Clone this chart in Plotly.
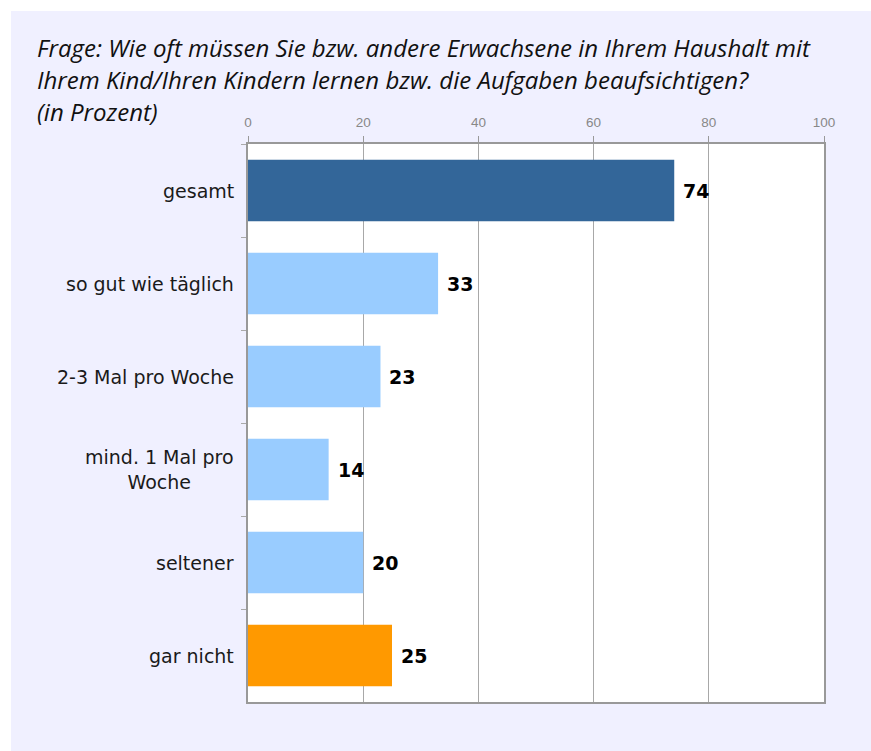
import plotly.graph_objects as go

categories = ["gesamt", "so gut wie täglich", "2-3 Mal pro Woche", "mind. 1 Mal pro Woche", "seltener", "gar nicht"]
label_texts = ["gesamt", "so gut wie täglich", "2-3 Mal pro Woche", "mind. 1 Mal pro<br>Woche", "seltener", "gar nicht"]
values = [74, 33, 23, 14, 20, 25]
colors = ["#336699", "#99CCFF", "#99CCFF", "#99CCFF", "#99CCFF", "#FF9900"]
x_ticks = [0, 20, 40, 60, 80, 100]
title_lines = [
    "Frage: Wie oft müssen Sie bzw. andere Erwachsene in Ihrem Haushalt mit",
    "Ihrem Kind/Ihren Kindern lernen bzw. die Aufgaben beaufsichtigen?",
    "(in Prozent)",
]

W, H = 871, 751
L, R, T, B = 248, 47, 144, 49
pw, ph = W - L - R, H - T - B

def px_x(x):
    return (x - L) / pw

def px_y(y):
    return 1 - (y - T) / ph

fig = go.Figure()
fig.add_trace(go.Bar(
    y=categories, x=values, orientation="h",
    marker=dict(color=colors, line=dict(width=0)),
    hoverinfo="skip",
))

shapes = [
    dict(type="rect", xref="paper", yref="paper", layer="below",
         x0=px_x(11), x1=px_x(W + 5), y0=px_y(11), y1=px_y(H + 5),
         fillcolor="#F0F0FF", line=dict(width=0)),
    dict(type="rect", xref="paper", yref="paper", layer="below",
         x0=0, x1=1, y0=0, y1=1, fillcolor="#FFFFFF", line=dict(width=0)),
]

annotations = []
for i, line in enumerate(title_lines):
    annotations.append(dict(
        text=line, xref="paper", yref="paper", x=px_x(35), y=px_y(47 + i * 32.5),
        xanchor="left", yanchor="middle", showarrow=False, align="left",
        font=dict(family="Open Sans", size=24, color="#111111", style="italic"),
    ))

for cat, txt in zip(categories, label_texts):
    annotations.append(dict(
        text=txt, xref="paper", yref="y", x=0, y=cat, xshift=-12,
        xanchor="right", yanchor="middle", showarrow=False, align="center",
        font=dict(family="DejaVu Sans", size=19, color="#1a1a1a"),
    ))

for cat, v in zip(categories, values):
    annotations.append(dict(
        text=f"<b>{v}</b>", xref="x", yref="y", x=v, y=cat, xshift=7,
        xanchor="left", yanchor="middle", showarrow=False,
        font=dict(family="DejaVu Sans", size=19, color="#000000"),
    ))

fig.update_layout(
    width=W, height=H,
    margin=dict(l=L, r=R, t=T, b=B, pad=0),
    paper_bgcolor="#FFFFFF", plot_bgcolor="rgba(0,0,0,0)",
    showlegend=False, bargap=0.34,
    shapes=shapes, annotations=annotations,
    xaxis=dict(
        side="top", range=[0, 100], tickvals=x_ticks, ticktext=[str(t) for t in x_ticks],
        showgrid=True, gridcolor="#A8A8A8", gridwidth=1,
        showline=True, linecolor="#999999", linewidth=2, mirror=True,
        ticks="outside", ticklen=6, tickcolor="#999999", tickwidth=1,
        tickfont=dict(family="Liberation Sans Narrow, Liberation Sans", size=13.5, color="#888888"),
        ticklabelstandoff=4, zeroline=False, fixedrange=True,
    ),
    yaxis=dict(
        categoryorder="array", categoryarray=categories, autorange="reversed",
        showticklabels=False, tickson="boundaries",
        ticks="outside", ticklen=5, tickcolor="#AAAAAA", tickwidth=1,
        showline=True, linecolor="#999999", linewidth=2, mirror=True,
        showgrid=False, zeroline=False, fixedrange=True,
    ),
)

fig.write_html("out.html", config={"displayModeBar": False},
               post_script="document.body.style.margin='0';document.body.style.overflow='hidden';")
